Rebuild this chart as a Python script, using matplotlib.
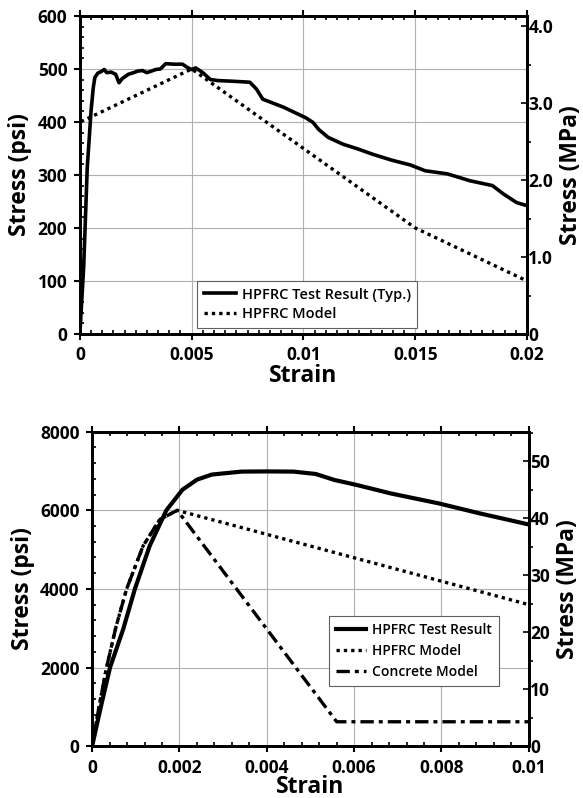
import matplotlib
matplotlib.use("Agg")
import matplotlib.pyplot as plt
from matplotlib.ticker import MultipleLocator

plt.rcParams['font.family'] = ['Open Sans', 'DejaVu Sans']
plt.rcParams['font.weight'] = 'bold'

# ---------------- Data: top chart (tension) ----------------
top_test_strain = [0.0, 0.00008, 0.00017, 0.00025, 0.00033, 0.00042, 0.0005, 0.0006, 0.00067, 0.0008,
                   0.00095, 0.00109, 0.0012, 0.0014, 0.0016, 0.00175, 0.0019, 0.00217, 0.0024,
                   0.0026, 0.0028, 0.003, 0.0032, 0.0034, 0.0036, 0.00384, 0.0042, 0.00459,
                   0.00484, 0.005, 0.00518, 0.0055, 0.00584, 0.0062, 0.00676, 0.0076, 0.0079,
                   0.00818, 0.0091, 0.0101, 0.01043, 0.01068, 0.0111, 0.01177, 0.01244, 0.0131,
                   0.01394, 0.01477, 0.01544, 0.01644, 0.01745, 0.01845, 0.01895, 0.01953, 0.02]
top_test_stress = [0, 60, 126, 220, 314, 370, 421, 465, 484, 492,
                   495, 499, 493, 494, 490, 474, 482, 490, 493,
                   496, 497, 493, 496, 499, 500, 510, 509, 509,
                   502, 499, 502, 493, 480, 478, 477, 475, 462,
                   443, 428, 408, 399, 386, 371, 358, 349, 339,
                   328, 319, 308, 302, 289, 280, 264, 248, 242]
top_model_strain = [0.0, 0.00002, 0.005, 0.015, 0.02]
top_model_stress = [0, 400, 500, 200, 100]

top_xticks = [0, 0.005, 0.01, 0.015, 0.02]
top_xlabels = ['0', '0.005', '0.01', '0.015', '0.02']
top_yticks = [0, 100, 200, 300, 400, 500, 600]
top_mpa_ticks = [0, 1.0, 2.0, 3.0, 4.0]
top_mpa_labels = ['0', '1.0', '2.0', '3.0', '4.0']

# ---------------- Data: bottom chart (compression) ----------------
bot_test_strain = [0.0, 0.0002, 0.00041, 0.00071, 0.00098, 0.00132, 0.0017, 0.00207, 0.0024,
                   0.00274, 0.00342, 0.004, 0.00461, 0.00512, 0.00555,
                   0.00606, 0.00683, 0.00793, 0.00887, 0.01]
bot_test_stress = [0, 1000, 2000, 2970, 4000, 5100, 6000, 6525, 6780,
                   6910, 6985, 6990, 6985, 6925, 6772,
                   6645, 6432, 6178, 5924, 5640]
bot_model_strain = [0.0, 0.00015, 0.00033, 0.00055, 0.00079, 0.00117, 0.00155, 0.00195, 0.01]
bot_model_stress = [0, 950, 2000, 3050, 4000, 5100, 5765, 6000, 3600]
conc_model_strain = [0.0, 0.00015, 0.00033, 0.00055, 0.00079, 0.00117, 0.00155, 0.00195, 0.0056, 0.01]
conc_model_stress = [0, 950, 2000, 3050, 4000, 5100, 5765, 6000, 620, 620]

bot_xticks = [0, 0.002, 0.004, 0.006, 0.008, 0.01]
bot_xlabels = ['0', '0.002', '0.004', '0.006', '0.008', '0.01']
bot_yticks = [0, 2000, 4000, 6000, 8000]
bot_mpa_ticks = [0, 10, 20, 30, 40, 50]
bot_mpa_labels = ['0', '10', '20', '30', '40', '50']

PSI_TO_MPA = 0.00689476

fig = plt.figure(figsize=(5.83, 7.98), dpi=100)

TICK_FS = 12.5
LABEL_FS = 16.5


def style_axes(ax, ax2, xminor, yminor, mpa_minor):
    ax.grid(True, which='major', color='#b0b0b0', linewidth=0.8)
    ax.xaxis.set_minor_locator(MultipleLocator(xminor))
    ax.yaxis.set_minor_locator(MultipleLocator(yminor))
    ax.tick_params(which='major', direction='out', length=4, width=1.5,
                   labelsize=TICK_FS, top=True, right=False, pad=5)
    ax.tick_params(which='minor', direction='in', length=3, width=1.2, top=True, right=False)
    for s in ax.spines.values():
        s.set_linewidth(2)
    ax2.yaxis.set_minor_locator(MultipleLocator(mpa_minor))
    ax2.tick_params(which='major', direction='in', length=4, width=1.2,
                    labelsize=TICK_FS, pad=1)
    ax2.tick_params(which='minor', direction='out', length=3, width=1.2)
    for s in ax2.spines.values():
        s.set_linewidth(2)


# ---------------- Top chart ----------------
ax1 = fig.add_axes([0.137, 0.5815, 0.767, 0.3985])
ax1.plot(top_test_strain, top_test_stress, color='black', linewidth=2.6, solid_joinstyle='round',
         label='HPFRC Test Result (Typ.)')
ax1.plot(top_model_strain, top_model_stress, color='black', linewidth=2.4, linestyle=(0, (1, 1.2)),
         label='HPFRC Model')
ax1.set_xlim(0, 0.02)
ax1.set_ylim(0, 600)
ax1.set_xticks(top_xticks, top_xlabels)
ax1.set_yticks(top_yticks)
ax1.set_xlabel('Strain', fontsize=LABEL_FS, fontweight='bold', labelpad=0)
ax1.set_ylabel('Stress (psi)', fontsize=LABEL_FS, fontweight='bold', labelpad=4)
ax1r = ax1.twinx()
ax1r.set_ylim(0, 600 * PSI_TO_MPA)
ax1r.set_yticks(top_mpa_ticks, top_mpa_labels)
ax1r.set_ylabel('Stress (MPa)', fontsize=LABEL_FS, fontweight='bold', rotation=90, labelpad=4)
style_axes(ax1, ax1r, 0.0005, 20, 0.5)
leg1 = ax1.legend(loc='lower left', bbox_to_anchor=(0.262, 0.019), borderaxespad=0,
                  prop={'size': 10.5, 'weight': 'semibold'}, fancybox=False, framealpha=1,
                  edgecolor='#606060', handlelength=2.2, handletextpad=0.4,
                  borderpad=0.45, labelspacing=0.4)
leg1.get_frame().set_linewidth(0.8)

# ---------------- Bottom chart ----------------
ax2 = fig.add_axes([0.158, 0.065, 0.749, 0.394])
ax2.plot(bot_test_strain, bot_test_stress, color='black', linewidth=3.0, solid_joinstyle='round',
         label='HPFRC Test Result')
ax2.plot(bot_model_strain, bot_model_stress, color='black', linewidth=2.4, linestyle=(0, (1, 1.2)),
         label='HPFRC Model')
ax2.plot(conc_model_strain, conc_model_stress, color='black', linewidth=2.4,
         linestyle=(0, (4, 1.5, 1.2, 1.5)), label='Concrete Model')
ax2.set_xlim(0, 0.01)
ax2.set_ylim(0, 8000)
ax2.set_xticks(bot_xticks, bot_xlabels)
ax2.set_yticks(bot_yticks)
ax2.set_xlabel('Strain', fontsize=LABEL_FS, fontweight='bold', labelpad=-1)
ax2.set_ylabel('Stress (psi)', fontsize=LABEL_FS, fontweight='bold', labelpad=4)
ax2r = ax2.twinx()
ax2r.set_ylim(0, 8000 * PSI_TO_MPA)
ax2r.set_yticks(bot_mpa_ticks, bot_mpa_labels)
ax2r.set_ylabel('Stress (MPa)', fontsize=LABEL_FS, fontweight='bold', rotation=90, labelpad=4)
style_axes(ax2, ax2r, 0.0004, 400, 5)
leg2 = ax2.legend(loc='lower left', bbox_to_anchor=(0.542, 0.191), borderaxespad=0,
                  prop={'size': 10, 'weight': 'semibold'}, fancybox=False, framealpha=1,
                  edgecolor='#606060', handlelength=2.2, handletextpad=0.4,
                  borderpad=0.5, labelspacing=0.5)
leg2.get_frame().set_linewidth(0.8)

fig.savefig('out.png', dpi=100)
